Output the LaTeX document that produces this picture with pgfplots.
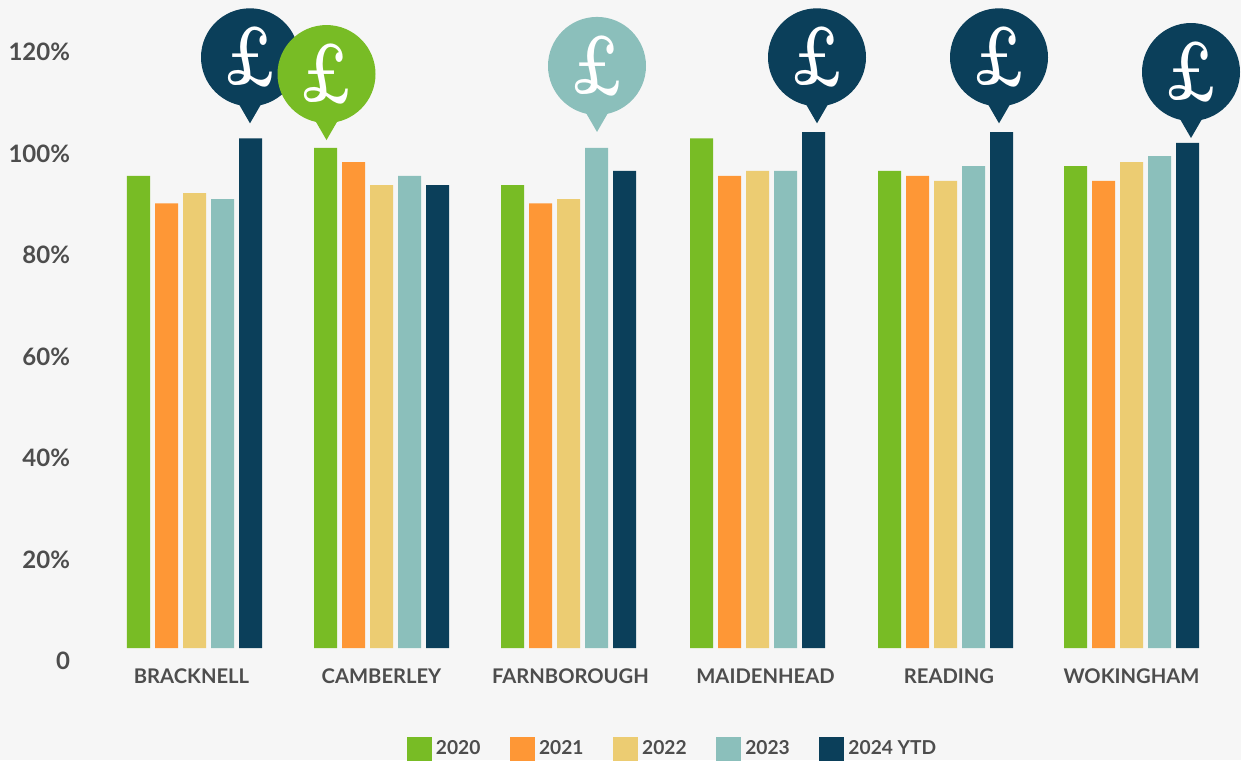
\documentclass[border=0pt]{standalone}
\usepackage{fontspec}
\usepackage{pgfplots}
\pgfplotsset{compat=1.18}
\setmainfont{Lato}
\newfontfamily\lm{Latin Modern Roman}

\definecolor{bg}{HTML}{F6F6F6}
\definecolor{txt}{HTML}{4D4D4D}
\definecolor{c2020}{HTML}{78BC25}
\definecolor{c2021}{HTML}{FE9736}
\definecolor{c2022}{HTML}{ECCC72}
\definecolor{c2023}{HTML}{8BBFBB}
\definecolor{c2024}{HTML}{0B3F5A}

% speech bubble with a pound sign, tip at (x,y) in axis units; 1px = 0.5pt
\newcommand\pin[3]{%
  \begin{scope}[shift={(axis cs:#1,#2)}]
    \fill[#3] (0pt,0pt) -- (-5.5pt,9.5pt) -- (5.5pt,9.5pt) -- cycle;
    \fill[#3] (0pt,33pt) circle (24.5pt);
    \node[text=white,inner sep=0pt,xscale=0.76,yscale=1.05] at (0pt,33pt) {\fontsize{40}{40}\selectfont\lm\bfseries £};
  \end{scope}%
}

\pgfplotsset{
  swatch/.style={legend image code/.code={\fill[##1] (0pt,-6.25pt) rectangle (12.5pt,6.25pt);}},
}

\begin{document}
\begin{tikzpicture}
\path[use as bounding box,fill=bg] (-50pt,-56pt) rectangle (570.5pt,324pt);
\clip (-50pt,-56pt) rectangle (570.5pt,324pt);
\begin{axis}[
  at={(0,0)}, anchor=south west,
  scale only axis,
  width=570.5pt, height=324pt,
  xmin=100, xmax=1241,
  ymin=0, ymax=127.7,
  % the chart's 0 label sits below the bar baseline
  y filter/.expression={y-2.56},
  ybar=2.5pt, bar width=11.5pt,
  clip=false,
  axis line style={draw=none},
  tick style={draw=none},
  ytick={0,20,40,60,80,100,120},
  yticklabels={0,20\%,40\%,60\%,80\%,100\%,120\%},
  yticklabel style={font=\fontsize{12}{13}\selectfont\bfseries, text=txt, anchor=east, xshift=-11.5pt, yshift=-6.5pt},
  xtick={191.5,381.5,570.5,765.5,949,1131.5},
  xticklabels={BRACKNELL,CAMBERLEY,FARNBOROUGH,MAIDENHEAD,READING,WOKINGHAM},
  xticklabel style={font=\fontsize{10.1}{12}\selectfont\bfseries, text=txt, yshift=-2.5pt},
  legend style={
    at={(0.5027,-0.1565)}, anchor=center, draw=none, fill=none,
    inner sep=0pt, outer sep=0pt,
    legend columns=-1,
    font=\fontsize{9.6}{12}\selectfont\bfseries\color{txt},
    /tikz/every even column/.append style={column sep=12.8pt},
  },
]
\addplot[swatch,fill=c2020,draw=none] coordinates {(194.5,95.6) (381.5,101.1) (568.5,93.8) (757.5,103.0) (945.5,96.6) (1131.5,97.5)};
\addlegendentry{2020}
\addplot[swatch,fill=c2021,draw=none] coordinates {(194.5,90.2) (381.5,98.3) (568.5,90.2) (757.5,95.6) (945.5,95.6) (1131.5,94.6)};
\addlegendentry{2021}
\addplot[swatch,fill=c2022,draw=none] coordinates {(194.5,92.2) (381.5,93.8) (568.5,91.0) (757.5,96.6) (945.5,94.6) (1131.5,98.3)};
\addlegendentry{2022}
\addplot[swatch,fill=c2023,draw=none] coordinates {(194.5,91.0) (381.5,95.6) (568.5,101.1) (757.5,96.6) (945.5,97.5) (1131.5,99.5)};
\addlegendentry{2023\hspace{-5.5pt}}
\addplot[swatch,fill=c2024,draw=none] coordinates {(194.5,103.0) (381.5,93.8) (568.5,96.6) (757.5,104.2) (945.5,104.2) (1131.5,102.1)};
\addlegendentry{2024 YTD}

\pin{250}{103.4}{c2024}
\pin{326.5}{100.1}{c2020}
\pin{597}{101.7}{c2023}
\pin{817}{103.4}{c2024}
\pin{999}{103.4}{c2024}
\pin{1191}{100.5}{c2024}
\end{axis}
\end{tikzpicture}
\end{document}
